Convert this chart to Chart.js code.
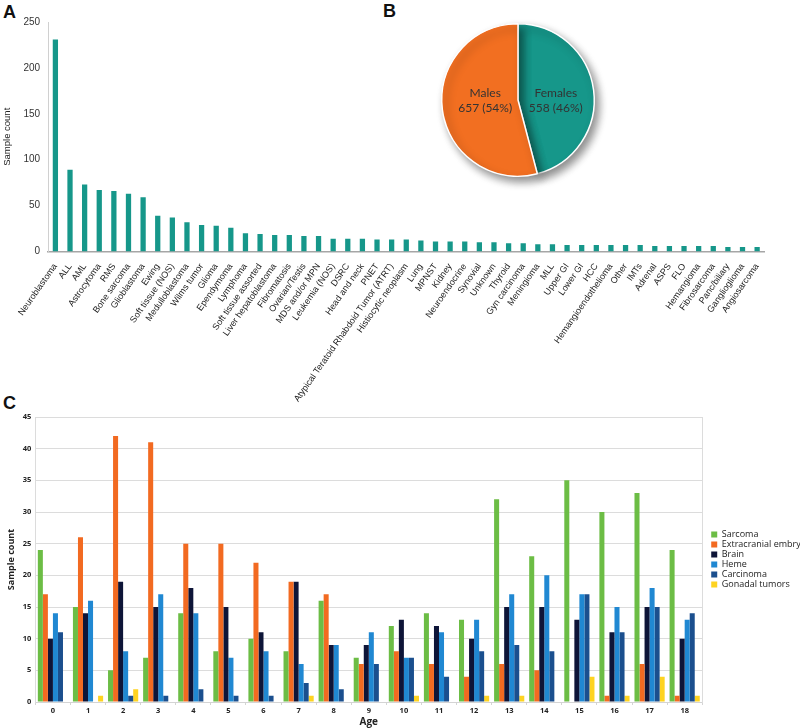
<!DOCTYPE html>
<html>
<head>
<meta charset="utf-8">
<script src="https://cdn.jsdelivr.net/npm/chart.js@4.4.1/dist/chart.umd.min.js"></script>
<style>
  body { margin: 0; background: #fff; width: 800px; height: 728px; overflow: hidden; position: relative; font-family: "Liberation Sans", Arial, sans-serif; }
  .panel-letter { position: absolute; font-weight: bold; font-size: 18px; color: #111; }
  .box { position: absolute; }
  #boxC { left: 0; top: 405px; width: 800px; height: 323px; overflow: hidden; }
</style>
</head>
<body>
<div class="panel-letter" style="left:3px; top:2px;">A</div>
<div class="panel-letter" style="left:383px; top:1px;">B</div>
<div class="panel-letter" style="left:3px; top:393px;">C</div>

<div class="box" style="left:0; top:0;"><canvas id="chartA" width="768" height="406"></canvas></div>
<div class="box" style="left:418px; top:0;"><canvas id="chartB" width="200" height="200"></canvas></div>
<div id="boxC" class="box"><canvas id="chartC" width="829" height="323"></canvas></div>

<script>
// ---- panel A: sample count per diagnosis
var diagnoses = ['Neuroblastoma', 'ALL', 'AML', 'Astrocytoma', 'RMS', 'Bone sarcoma', 'Glioblastoma', 'Ewing',
    'Soft tissue (NOS)', 'Medulloblastoma', 'Wilms tumor', 'Glioma', 'Ependymoma', 'Lymphoma', 'Soft tissue assorted',
    'Liver hepatoblastoma', 'Fibromatosis', 'Ovarian/Testis', 'MDS and/or MPN', 'Leukemia (NOS)', 'DSRC', 'Head and neck',
    'PNET', 'Atypical Teratoid Rhabdoid Tumor (ATRT)', 'Histiocytic neoplasm', 'Lung', 'MPNST', 'Kidney', 'Neuroendocrine',
    'Synovial', 'Unknown', 'Thyroid', 'Gyn carcinoma', 'Meningioma', 'MLL', 'Upper GI', 'Lower GI', 'HCC',
    'Hemangioendothelioma', 'Other', 'IMTs', 'Adrenal', 'ASPS', 'FLO', 'Hemangioma', 'Fibrosarcoma', 'Panc/biliary',
    'Ganglioglioma', 'Angiosarcoma'];
var diagnosisCounts = [231, 89, 73, 67, 66, 63, 59, 39, 37, 32, 29, 28, 26, 20, 19, 18, 18, 17, 17, 14, 14, 14,
    13, 13, 13, 12, 11, 11, 11, 10, 10, 9, 9, 8, 8, 7, 7, 7, 7, 7, 7, 6, 6, 6, 6, 6, 5, 5, 5];
var countTicksA = [0, 50, 100, 150, 200, 250];

// ---- panel B: sex split
var sexLabels = ['Females', 'Males'];
var sexCounts = [558, 657];
var sexPercent = ['46%', '54%'];

// ---- panel C: sample count per age and tumour group
var ages = ['0', '1', '2', '3', '4', '5', '6', '7', '8', '9', '10', '11', '12', '13', '14', '15', '16', '17', '18'];
var sarcoma      = [24, 15, 5, 7, 14, 8, 10, 8, 16, 7, 12, 14, 13, 32, 23, 35, 30, 33, 24];
var extracranial = [17, 26, 42, 41, 25, 25, 22, 19, 17, 6, 8, 6, 4, 6, 5, 0, 1, 6, 1];
var brain        = [10, 14, 19, 15, 18, 15, 11, 19, 9, 9, 13, 12, 10, 15, 15, 13, 11, 15, 10];
var heme         = [14, 16, 8, 17, 14, 7, 8, 6, 9, 11, 7, 11, 13, 17, 20, 17, 15, 18, 13];
var carcinoma    = [11, 0, 1, 1, 2, 1, 1, 3, 2, 6, 7, 4, 8, 9, 8, 17, 11, 15, 14];
var gonadal      = [0, 1, 2, 0, 0, 0, 0, 1, 0, 0, 1, 0, 1, 1, 0, 4, 1, 4, 1];

var teal = '#16978a';
var orange = '#f26f21';

// chart A
new Chart(document.getElementById('chartA'), {
    type: 'bar',
    data: {
        labels: diagnoses,
        datasets: [{ data: diagnosisCounts, backgroundColor: teal, barPercentage: 0.36, categoryPercentage: 1 }]
    },
    options: {
        responsive: false,
        animation: false,
        layout: { padding: { top: 22, left: 0, right: 2 } },
        plugins: { legend: { display: false }, tooltip: { enabled: false } },
        scales: {
            x: {
                grid: { display: false },
                border: { color: '#a6a6a6', width: 1.5 },
                ticks: { minRotation: 55, maxRotation: 55, autoSkip: false, padding: 2,
                    color: '#1a1a1a', font: { family: 'Liberation Sans', size: 9 } }
            },
            y: {
                min: 0, max: 250,
                afterBuildTicks: function (axis) { axis.ticks = countTicksA.map(function (v) { return { value: v }; }); },
                grid: { display: false, drawTicks: false },
                border: { color: '#d0d0d0' },
                ticks: { color: '#333', padding: 8, font: { family: 'Liberation Sans', size: 10 } },
                title: { display: true, text: 'Sample count', color: '#222', padding: 2,
                    font: { family: 'Liberation Sans', size: 9.5 } }
            }
        }
    }
});

// shadow under the pie and labels inside the slices
var pieDecor = {
    id: 'pieDecor',
    beforeDatasetsDraw: function (chart) {
        var ctx = chart.ctx;
        ctx.save();
        ctx.shadowColor = 'rgba(0,0,0,0.45)';
        ctx.shadowBlur = 9;
        ctx.shadowOffsetX = 4;
        ctx.shadowOffsetY = 5;
    },
    afterDatasetsDraw: function (chart) {
        var ctx = chart.ctx;
        ctx.restore();
        var arcs = chart.getDatasetMeta(0).data;
        ctx.save();
        ctx.fillStyle = '#333';
        ctx.textAlign = 'center';
        ctx.textBaseline = 'middle';
        ctx.font = '12px Lato';
        arcs.forEach(function (arc, i) {
            var pos = arc.tooltipPosition();
            ctx.fillText(sexLabels[i], pos.x + (i === 1 ? 5 : 0), arc.y - 7);
            ctx.fillText(sexCounts[i] + ' (' + sexPercent[i] + ')', pos.x + (i === 1 ? 5 : 0), arc.y + 8);
        });
        ctx.restore();
    }
};

// chart B
new Chart(document.getElementById('chartB'), {
    type: 'pie',
    data: {
        labels: sexLabels,
        datasets: [{ data: sexCounts, backgroundColor: [teal, orange], borderColor: '#ffffff', borderWidth: 1.5 }]
    },
    options: {
        responsive: false,
        animation: false,
        layout: { padding: 23 },
        plugins: { legend: { display: false }, tooltip: { enabled: false } }
    },
    plugins: [pieDecor]
});

// chart C
var tickFont = { family: 'Open Sans', size: 7.5, weight: 'bold' };
new Chart(document.getElementById('chartC'), {
    type: 'bar',
    data: {
        labels: ages,
        datasets: [
            { label: 'Sarcoma', data: sarcoma, backgroundColor: '#6cbd45' },
            { label: 'Extracranial embryonal', data: extracranial, backgroundColor: '#f26a21' },
            { label: 'Brain', data: brain, backgroundColor: '#0e1538' },
            { label: 'Heme', data: heme, backgroundColor: '#2088d2' },
            { label: 'Carcinoma', data: carcinoma, backgroundColor: '#1b4f8e' },
            { label: 'Gonadal tumors', data: gonadal, backgroundColor: '#fed321' }
        ]
    },
    options: {
        responsive: false,
        animation: false,
        datasets: { bar: { barPercentage: 1, categoryPercentage: 0.86 } },
        layout: { padding: { top: 12, left: 4, bottom: 0 } },
        plugins: {
            tooltip: { enabled: false },
            legend: {
                position: 'right',
                fullSize: false,
                labels: { boxWidth: 6, boxHeight: 6, padding: 1, color: '#222',
                    font: { family: 'Open Sans', size: 9 } }
            }
        },
        scales: {
            x: {
                grid: { drawOnChartArea: false, tickLength: 3, color: '#d4d4d4' },
                border: { color: '#d4d4d4' },
                ticks: { color: '#222', padding: 1, font: tickFont },
                title: { display: true, text: 'Age', color: '#222', padding: { top: 0, bottom: 0 },
                    font: { family: 'Open Sans', size: 10, weight: 'bold' } }
            },
            y: {
                min: 0, max: 45,
                ticks: { stepSize: 5, color: '#222', padding: 4, font: tickFont },
                grid: { color: '#dcdcdc', drawTicks: false },
                border: { color: '#dcdcdc' },
                title: { display: true, text: 'Sample count', color: '#222', padding: 2,
                    font: { family: 'Open Sans', size: 9, weight: 'bold' } }
            },
            yRight: {
                position: 'right', min: 0, max: 45,
                ticks: { display: false },
                grid: { display: false },
                border: { color: '#dcdcdc' }
            }
        }
    }
});
</script>
</body>
</html>
